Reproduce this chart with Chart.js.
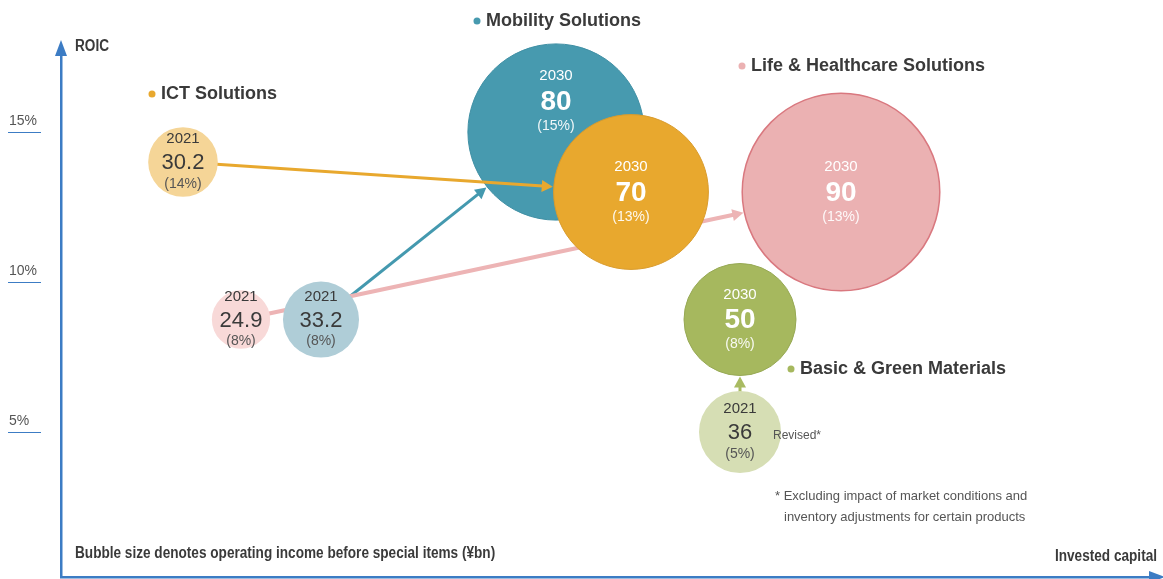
<!DOCTYPE html>
<html>
<head>
<meta charset="utf-8">
<script src="https://cdn.jsdelivr.net/npm/chart.js@4.4.1/dist/chart.umd.min.js"></script>
<style>
  html, body { margin: 0; padding: 0; background: #fff; }
  #wrap { width: 1163px; height: 579px; }
</style>
</head>
<body>
<div id="wrap"><canvas id="roicChart"></canvas></div>
<script>
// business segments
const segments = ['ICT Solutions', 'Mobility Solutions', 'Life & Healthcare Solutions', 'Basic & Green Materials']
// operating income before special items (¥bn) -> bubble size
const income2021 = [30.2, 33.2, 24.9, 36]
const income2030 = [70, 80, 90, 50]
// invested capital (no scale printed, read off the position)
const capital2021 = [12.2, 26.0, 18.0, 67.9]
const capital2030 = [57.0, 49.5, 78.0, 67.9]
// ROIC where the bubble sits (the 8% bubbles sit a bit high in the original)
const roic2021 = [14, 8.75, 8.75, 5]
const roic2030 = [13, 15, 13, 8.75]
// ROIC as printed inside the bubbles
const roicText2021 = ['14%', '8%', '8%', '5%']
const roicText2030 = ['13%', '15%', '13%', '8%']
const yTicks = [5, 10, 15]

const lightColors = ['#F5D597', '#AFCDD7', '#F8D9D8', '#D6DEB4']
const darkColors = ['#E8A82E', '#479AAF', '#EBB1B2', '#A6B85E']
const borderColors = ['#D99B2C', '#3F8FA4', '#D9787F', '#97A955']
const arrowColors = ['#E8A82E', '#4499AF', '#EDB4B5', '#A9BB62']
const axisBlue = '#3C7CC4'
const textDark = '#3a3a3a'
const sans = '"Liberation Sans", Arial, sans-serif'

const bubbleR = v => 2.5 + 1.07 * v

// bubbles would otherwise push the chart area inwards by their radius
const BubbleCtrl = Chart.BubbleController || Chart.registry.getController('bubble')
BubbleCtrl.prototype.getMaxOverflow = function () { return 0 }

// draw order, first one ends up at the bottom
const drawSeq = ['1-2030', '2-2021', '1-2021', '0-2021', '3-2021', '0-2030', '2-2030', '3-2030']

const datasets = drawSeq.map((key, n) => {
  const [i, year] = key.split('-')
  const is2030 = year === '2030'
  const income = is2030 ? income2030[i] : income2021[i]
  return {
    key: key,
    seg: +i,
    year: year,
    income: income,
    pct: is2030 ? roicText2030[i] : roicText2021[i],
    data: [{
      x: is2030 ? capital2030[i] : capital2021[i],
      y: is2030 ? roic2030[i] : roic2021[i],
      r: bubbleR(income)
    }],
    backgroundColor: is2030 ? darkColors[i] : lightColors[i],
    borderColor: is2030 ? borderColors[i] : lightColors[i],
    borderWidth: is2030 ? (+i === 2 ? 1.5 : 1) : 0,
    clip: false,
    order: drawSeq.length - n
  }
})

// arrows 2021 -> 2030, drawn right above the Mobility 2030 bubble
const arrowPlugin = {
  id: 'arrows',
  afterDatasetDraw(chart, args) {
    if (chart.data.datasets[args.index].key !== '1-2030') return
    const ctx = chart.ctx
    const xs = chart.scales.x, ys = chart.scales.y
    segments.forEach((s, i) => {
      const x1 = xs.getPixelForValue(capital2021[i]), y1 = ys.getPixelForValue(roic2021[i])
      const x2 = xs.getPixelForValue(capital2030[i]), y2 = ys.getPixelForValue(roic2030[i])
      const len = Math.hypot(x2 - x1, y2 - y1)
      const ux = (x2 - x1) / len, uy = (y2 - y1) / len
      const tr = bubbleR(income2030[i]) + 1
      const tipX = x2 - ux * tr, tipY = y2 - uy * tr
      const head = 11, half = 6
      const bx = tipX - ux * head, by = tipY - uy * head
      ctx.save()
      ctx.strokeStyle = arrowColors[i]
      ctx.fillStyle = arrowColors[i]
      ctx.lineWidth = i === 2 ? 4 : 3
      ctx.beginPath()
      ctx.moveTo(x1, y1)
      ctx.lineTo(bx + ux, by + uy)
      ctx.stroke()
      ctx.beginPath()
      ctx.moveTo(tipX, tipY)
      ctx.lineTo(bx - uy * half, by + ux * half)
      ctx.lineTo(bx + uy * half, by - ux * half)
      ctx.closePath()
      ctx.fill()
      ctx.restore()
    })
  }
}

// condensed bold look: squeeze a normal bold face horizontally
function narrowText(ctx, text, x, y, align) {
  ctx.save()
  ctx.font = 'bold 16px ' + sans
  const sx = 0.85
  const w = ctx.measureText(text).width * sx
  const left = align === 'right' ? x - w : x
  ctx.translate(left, y)
  ctx.scale(sx, 1)
  ctx.textAlign = 'left'
  ctx.fillText(text, 0, 0)
  ctx.restore()
}

// text inside the bubbles and the annotations
const textPlugin = {
  id: 'texts',
  afterDatasetsDraw(chart) {
    const ctx = chart.ctx
    ctx.save()
    ctx.textAlign = 'center'
    ctx.textBaseline = 'middle'
    chart.data.datasets.forEach((ds, di) => {
      const el = chart.getDatasetMeta(di).data[0]
      const is2030 = ds.year === '2030'
      const cx = el.x
      const cy = el.y + (ds.key === '1-2030' ? -31 : 0)
      ctx.fillStyle = is2030 ? '#ffffff' : textDark
      ctx.font = '15px ' + sans
      ctx.fillText(ds.year, cx, cy - (is2030 ? 25 : 23))
      ctx.font = is2030 ? 'bold 28px ' + sans : '22px ' + sans
      ctx.fillText(String(ds.income), cx, cy + 1)
      ctx.fillStyle = is2030 ? 'rgba(255,255,255,0.92)' : '#555555'
      ctx.font = '14px ' + sans
      ctx.fillText('(' + ds.pct + ')', cx, cy + (is2030 ? 25 : 22))
      if (ds.key === '3-2021') {
        ctx.textAlign = 'left'
        ctx.fillStyle = '#555555'
        ctx.font = '12px ' + sans
        ctx.fillText('Revised*', cx + 33, cy + 4)
        ctx.textAlign = 'center'
      }
    })

    // segment names with coloured dots
    const names = [[152, 94], [477, 21], [742, 66], [791, 369]]
    ctx.textAlign = 'left'
    segments.forEach((s, i) => {
      const [x, y] = names[i]
      ctx.fillStyle = darkColors[i]
      ctx.beginPath()
      ctx.arc(x, y, 3.5, 0, Math.PI * 2)
      ctx.fill()
      ctx.fillStyle = textDark
      ctx.font = 'bold 18px ' + sans
      ctx.fillText(s, x + 9, y)
    })

    // axis titles and notes
    ctx.fillStyle = textDark
    narrowText(ctx, 'ROIC', 75, 47)
    narrowText(ctx, 'Bubble size denotes operating income before special items (¥bn)', 75, 554)
    narrowText(ctx, 'Invested capital', 1157, 557, 'right')
    ctx.textAlign = 'left'
    ctx.fillStyle = '#555555'
    ctx.font = '13px ' + sans
    ctx.fillText('* Excluding impact of market conditions and', 775, 496)
    ctx.fillText('inventory adjustments for certain products', 784, 517)

    // axis arrow heads
    const a = chart.chartArea
    ctx.fillStyle = axisBlue
    ctx.beginPath()
    ctx.moveTo(a.left, a.top - 15)
    ctx.lineTo(a.left - 6, a.top + 1)
    ctx.lineTo(a.left + 6, a.top + 1)
    ctx.closePath()
    ctx.fill()
    ctx.beginPath()
    ctx.moveTo(a.right + 15, a.bottom)
    ctx.lineTo(a.right - 1, a.bottom - 6)
    ctx.lineTo(a.right - 1, a.bottom + 6)
    ctx.closePath()
    ctx.fill()

    // blue rule under the tick labels
    const ys = chart.scales.y
    ctx.strokeStyle = axisBlue
    ctx.lineWidth = 1
    yTicks.forEach(v => {
      const py = Math.round(ys.getPixelForValue(v)) + 0.5
      ctx.beginPath()
      ctx.moveTo(8, py)
      ctx.lineTo(41, py)
      ctx.stroke()
    })
    ctx.restore()
  }
}

const roicChart = document.querySelector('#roicChart')
new Chart(roicChart, {
  type: 'bubble',
  data: { datasets: datasets },
  options: {
    responsive: true,
    maintainAspectRatio: false,
    animation: false,
    layout: { padding: { left: 9, right: 13, top: 55, bottom: 2 } },
    plugins: {
      legend: { display: false },
      tooltip: { enabled: false }
    },
    scales: {
      x: {
        type: 'linear',
        min: 0,
        max: 108.9,
        ticks: { display: false },
        grid: { display: false, drawTicks: false },
        border: { display: true, color: axisBlue, width: 2.5 },
        afterFit: s => { s.height = 0; s.paddingLeft = 0; s.paddingRight = 0 }
      },
      y: {
        type: 'linear',
        min: 0.1667,
        max: 17.567,
        afterBuildTicks: s => { s.ticks = yTicks.map(v => ({ value: v })) },
        ticks: {
          crossAlign: 'far',
          labelOffset: -11,
          color: '#555555',
          font: { family: sans, size: 14 },
          callback: v => v + '%'
        },
        grid: { display: false, drawTicks: false },
        border: { display: true, color: axisBlue, width: 2.5 },
        afterFit: s => { s.width = 52; s.paddingTop = 0; s.paddingBottom = 0 }
      }
    }
  },
  plugins: [arrowPlugin, textPlugin]
})
</script>
</body>
</html>
